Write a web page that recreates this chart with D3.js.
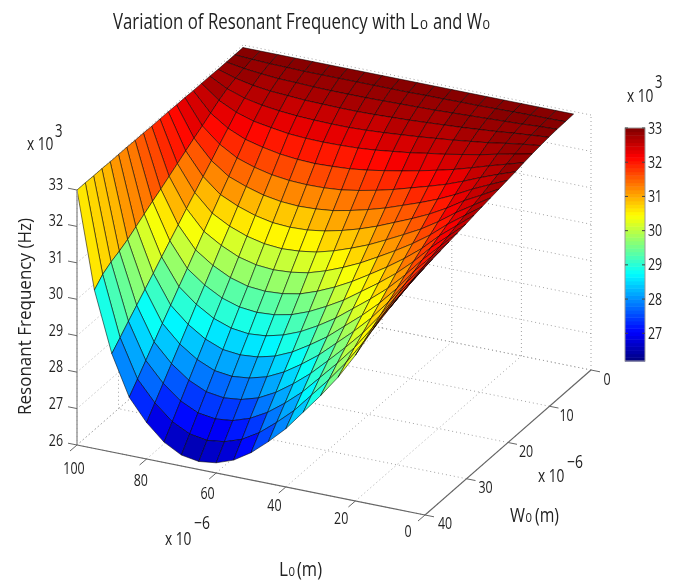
<!DOCTYPE html>
<html><head><meta charset="utf-8">
<script src="https://cdn.jsdelivr.net/npm/d3@7"></script>
<style>
html,body{margin:0;padding:0;background:#fff}
svg{display:block;filter:blur(0.4px)}
text{font-family:"Open Sans","Noto Sans",sans-serif;fill:#222}
</style></head><body>
<svg id="c" width="679" height="582"></svg>
<script>
const zLabel = "Resonant Frequency (Hz)";
const lTicks = [0,20,40,60,80,100];
const wTicks = [0,10,20,30,40];
const zTicks = [26,27,28,29,30,31,32,33];
const barTicks = [27,28,29,30,31,32,33];
const lValues = [5,10,15,20,25,30,35,40,45,50,55,60,65,70,75,80,85,90,95,100];
const wValues = [0,2,4,6,8,10,12,14,16,18,20,22,24,26,28,30,32,34,36,38,40];
// frequency (kHz): one row per W value, one column per L value
const zRows = [
[32.93,32.93,32.93,32.93,32.93,32.93,32.93,32.93,32.93,32.93,32.93,32.93,32.93,32.93,32.93,32.93,32.93,32.93,32.93,32.93],
[32.92,32.91,32.91,32.90,32.89,32.88,32.88,32.87,32.87,32.86,32.86,32.86,32.86,32.86,32.86,32.86,32.87,32.88,32.90,32.93],
[32.91,32.89,32.86,32.84,32.82,32.80,32.78,32.76,32.75,32.74,32.73,32.72,32.72,32.72,32.73,32.75,32.76,32.80,32.85,32.93],
[32.89,32.85,32.81,32.76,32.72,32.68,32.65,32.62,32.59,32.57,32.55,32.54,32.54,32.55,32.56,32.59,32.62,32.68,32.78,32.93],
[32.86,32.80,32.73,32.65,32.59,32.53,32.48,32.43,32.39,32.35,32.32,32.30,32.30,32.31,32.33,32.37,32.43,32.53,32.69,32.94],
[32.83,32.73,32.63,32.52,32.43,32.34,32.27,32.19,32.13,32.07,32.03,32.01,32.00,32.01,32.04,32.11,32.19,32.34,32.57,32.94],
[32.79,32.65,32.51,32.36,32.22,32.10,31.99,31.89,31.80,31.72,31.66,31.63,31.61,31.63,31.68,31.77,31.89,32.10,32.42,32.94],
[32.74,32.57,32.39,32.19,32.01,31.86,31.72,31.58,31.46,31.36,31.28,31.24,31.23,31.25,31.31,31.42,31.58,31.86,32.27,32.95],
[32.70,32.49,32.27,32.02,31.80,31.61,31.44,31.27,31.13,31.01,30.91,30.86,30.84,30.87,30.95,31.09,31.27,31.61,32.13,32.95],
[32.66,32.40,32.15,31.85,31.59,31.37,31.17,30.97,30.80,30.66,30.55,30.48,30.46,30.49,30.59,30.75,30.97,31.37,31.98,32.96],
[32.62,32.32,32.02,31.68,31.38,31.13,30.89,30.66,30.47,30.30,30.17,30.10,30.07,30.11,30.22,30.40,30.66,31.13,31.83,32.96],
[32.58,32.24,31.90,31.51,31.18,30.89,30.62,30.36,30.14,29.95,29.80,29.72,29.69,29.73,29.85,30.07,30.36,30.89,31.68,32.96],
[32.54,32.16,31.78,31.34,30.97,30.64,30.34,30.05,29.80,29.59,29.42,29.33,29.30,29.34,29.48,29.72,30.05,30.64,31.53,32.97],
[32.49,32.07,31.66,31.18,30.76,30.40,30.07,29.74,29.47,29.23,29.05,28.95,28.92,28.97,29.12,29.38,29.74,30.40,31.39,32.97],
[32.45,31.99,31.53,31.01,30.55,30.16,29.80,29.44,29.14,28.88,28.69,28.57,28.53,28.59,28.76,29.05,29.44,30.16,31.24,32.98],
[32.41,31.91,31.41,30.84,30.34,29.91,29.52,29.13,28.81,28.52,28.31,28.19,28.15,28.20,28.39,28.70,29.13,29.91,31.09,32.98],
[32.37,31.83,31.29,30.67,30.13,29.67,29.25,28.83,28.48,28.17,27.94,27.81,27.76,27.82,28.03,28.36,28.83,29.67,30.94,32.98],
[32.33,31.75,31.17,30.50,29.92,29.43,28.97,28.52,28.14,27.81,27.56,27.42,27.37,27.44,27.66,28.02,28.52,29.43,30.82,32.99],
[32.28,31.66,31.04,30.34,29.72,29.19,28.70,28.21,27.81,27.46,27.20,27.04,26.99,27.06,27.29,27.68,28.21,29.19,30.72,32.99],
[32.24,31.58,30.92,30.17,29.51,28.94,28.42,27.90,27.48,27.10,26.82,26.66,26.60,26.68,26.92,27.34,27.90,28.94,30.58,33.00],
[32.20,31.50,30.80,30.00,29.30,28.70,28.15,27.60,27.15,26.75,26.45,26.28,26.22,26.30,26.56,27.00,27.60,28.70,30.35,33.00]
];

const svg = d3.select("#c");
// orthographic projection built from linear scales
const lx = d3.scaleLinear([0,100],[425,77]);
const ly = d3.scaleLinear([0,100],[0,-70]);
const wx = d3.scaleLinear([40,0],[0,166]);
const wy = d3.scaleLinear([40,0],[515,370]);
const zy = d3.scaleLinear([26,33],[0,-255]);
const P = (l,w,z)=>[lx(l)+wx(w), ly(l)+wy(w)+zy(z)];

const clamp=v=>Math.max(0,Math.min(1,v));
const jet=t=>d3.rgb(255*clamp(1.5-Math.abs(4*t-3)),255*clamp(1.5-Math.abs(4*t-2)),255*clamp(1.5-Math.abs(4*t-1))).formatHex();
const levels=d3.range(64).map(i=>jet((i+0.5)/64));
const color=d3.scaleQuantize([26.19,33],levels);

// grid: walls and floor
const gridG=svg.append("g").attr("fill","none").attr("stroke","#a2a2a2").attr("stroke-width",1).attr("stroke-dasharray","1 3");
const seg=(a,b)=>gridG.append("line").attr("x1",a[0]).attr("y1",a[1]).attr("x2",b[0]).attr("y2",b[1]);
lTicks.forEach(l=>{seg(P(l,40,26),P(l,0,26));seg(P(l,0,26),P(l,0,33));});
wTicks.forEach(w=>{seg(P(0,w,26),P(100,w,26));seg(P(100,w,26),P(100,w,33));});
zTicks.forEach(z=>{seg(P(0,0,z),P(100,0,z));seg(P(100,0,z),P(100,40,z));});

// surface, back to front
const cells=[];
for(let i=lValues.length-2;i>=0;i--){
  for(let j=0;j<wValues.length-1;j++){
    cells.push({i,j});
  }
}
const line=d3.line();
svg.append("g").selectAll("path").data(cells).join("path")
 .attr("d",d=>{
   const a=[[d.i,d.j],[d.i+1,d.j],[d.i+1,d.j+1],[d.i,d.j+1]].map(([i,j])=>P(lValues[i],wValues[j],zRows[j][i]));
   return line(a)+"Z";
 })
 .attr("fill",d=>color(zRows[d.j][d.i]))
 .attr("stroke","#000").attr("stroke-opacity",0.6).attr("stroke-width",0.9).attr("stroke-linejoin","round");

// axes
const ax=svg.append("g").attr("fill","none");
const axis=(a,b,c,w)=>ax.append("line").attr("x1",a[0]).attr("y1",a[1]).attr("x2",b[0]).attr("y2",b[1]).attr("stroke",c).attr("stroke-width",w);
axis(P(100,40,26),P(100,40,33),"#9b9b9b",1.5);
axis(P(100,40,26),P(0,40,26),"#666",1.2);
axis(P(0,40,26),P(0,0,26),"#666",1.2);
zTicks.forEach(z=>{const p=P(100,40,z);axis(p,[p[0]-9,p[1]-1.8],"#666",1);});
lTicks.forEach(l=>{const p=P(l,40,26);axis(p,[p[0]-7,p[1]+6],"#666",1);});
wTicks.forEach(w=>{const p=P(0,w,26);axis(p,[p[0]+9,p[1]+1.8],"#666",1);});

// text, narrowed horizontally to the width measured on the reference
const T=(x,y,s,size,anchor,len,rot)=>{
  const t=svg.append("text").attr("font-size",size).attr("text-anchor",anchor||"start").text(s);
  const k=len/t.node().getComputedTextLength();
  t.attr("transform",`translate(${x},${y})${rot?` rotate(${rot})`:""} scale(${k},1)`);
  return t;
};
const tickSize=16.5;
const dw=s=>String(s).length*7.1;
const zLabY=d3.scaleLinear([26,33],[445.5,189.5]);
zTicks.forEach(z=>T(63,zLabY(z),z,tickSize,"end",dw(z)));
const lLabX=d3.scaleLinear([0,100],[408,74]), lLabY=d3.scaleLinear([0,100],[536.5,473.5]);
lTicks.forEach(l=>T(lLabX(l),lLabY(l),l,tickSize,"middle",dw(l)));
const wLabX=d3.scaleLinear([0,40],[607,445]), wLabY=d3.scaleLinear([0,40],[385,528.5]);
wTicks.forEach(w=>T(wLabX(w),wLabY(w),w,tickSize,"middle",dw(w)));

// exponents
function exp10(x,y,sup,dy,supX,supW){
  T(x,y,"x 10",18,"start",26.5);
  T(supX,y+dy,sup,18,"start",supW);
}
exp10(27,150,"3",-13,55,7.5);
exp10(627,102,"3",-14,655,7.5);
exp10(165,545,"\u22126",-16,194,16);
exp10(538,482,"\u22126",-14,567,16);

// title
T(113,29,"Variation of Resonant Frequency with L",22,"start",306);
T(420,29,"0",13,"start",8);
T(433,29,"and W",22,"start",49);
T(482.5,29,"0",13,"start",7.5);
// axis labels
T(279,576,"L",20,"start",9); T(288.5,576,"0",12,"start",6.5); T(297,576,"(m)",20,"start",25);
T(510,522,"W",20,"start",15); T(525.5,522,"0",12,"start",6.5); T(535,522,"(m)",20,"start",24);
T(31,316.5,zLabel,18.5,"middle",197,-90);

// colour bar
const barY=d3.scaleLinear([26.19,33],[361,128]);
const bar=svg.append("g");
const barStep=(33-26.19)/64;
bar.selectAll("rect").data(levels).join("rect")
 .attr("x",625).attr("width",20)
 .attr("y",(d,i)=>barY(26.19+(i+1)*barStep))
 .attr("height",barY(26.19)-barY(26.19+barStep)+0.5)
 .attr("fill",d=>d);
bar.append("rect").attr("x",625).attr("y",128).attr("width",20).attr("height",233).attr("fill","none").attr("stroke","#999").attr("stroke-width",1);
barTicks.forEach(v=>{
  const y=barY(v);
  bar.append("line").attr("x1",625).attr("x2",628).attr("y1",y).attr("y2",y).attr("stroke","#444");
  bar.append("line").attr("x1",642).attr("x2",645).attr("y1",y).attr("y2",y).attr("stroke","#444");
  T(648,y+5.5,v,tickSize,"start",dw(v));
});
</script></body></html>
